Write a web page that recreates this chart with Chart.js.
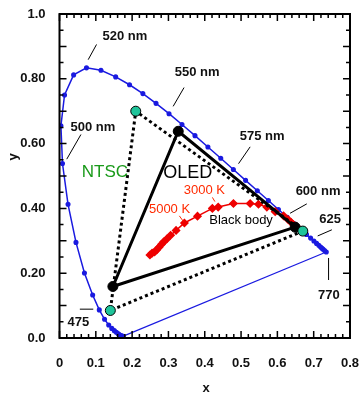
<!DOCTYPE html>
<html>
<head>
<meta charset="utf-8">
<script src="https://cdn.jsdelivr.net/npm/chart.js@4"></script>
<style>
  html, body { margin: 0; padding: 0; background: #fff; }
  #wrap { width: 361px; height: 394px; }
</style>
</head>
<body>
<div id="wrap"><canvas id="cie"></canvas></div>
<script>
// Spectral locus (CIE 1931), 380 -> 680 nm
const locusX = [0.1741, 0.1740, 0.1738, 0.1736, 0.1733, 0.1730, 0.1726, 0.1721, 0.1714, 0.1703, 0.1689, 0.1669, 0.1644, 0.1611, 0.1566, 0.1510, 0.1440, 0.1355, 0.1241, 0.1096, 0.0913, 0.0687, 0.0454, 0.0235, 0.0082, 0.0039, 0.0139, 0.0389, 0.0743, 0.1142, 0.1547, 0.1929, 0.2296, 0.2658, 0.3016, 0.3373, 0.3731, 0.4087, 0.4441, 0.4788, 0.5125, 0.5448, 0.5752, 0.6029, 0.6270, 0.6482, 0.6658, 0.6801, 0.6915, 0.7006, 0.7079, 0.7140, 0.7190, 0.7230, 0.7260, 0.7300, 0.7347];
const locusY = [0.0050, 0.0050, 0.0049, 0.0049, 0.0048, 0.0048, 0.0048, 0.0048, 0.0051, 0.0058, 0.0069, 0.0086, 0.0109, 0.0138, 0.0177, 0.0227, 0.0297, 0.0399, 0.0578, 0.0868, 0.1327, 0.2007, 0.2950, 0.4127, 0.5384, 0.6548, 0.7502, 0.8120, 0.8338, 0.8262, 0.8059, 0.7816, 0.7543, 0.7243, 0.6923, 0.6589, 0.6245, 0.5896, 0.5547, 0.5202, 0.4866, 0.4544, 0.4242, 0.3965, 0.3725, 0.3514, 0.3340, 0.3197, 0.3083, 0.2993, 0.2920, 0.2859, 0.2809, 0.2770, 0.2740, 0.2700, 0.2653];

// Line of purples (380 nm end -> 770 nm end)
const purpleX = [0.1741, 0.7347];
const purpleY = [0.0050, 0.2653];

// Black body (Planckian) locus
const bbX = [0.652, 0.644, 0.637, 0.630, 0.617, 0.594, 0.571, 0.548, 0.525, 0.479, 0.437, 0.421, 0.380, 0.344, 0.321, 0.306, 0.295, 0.287, 0.281, 0.274, 0.268, 0.262, 0.255, 0.249];
const bbY = [0.345, 0.350, 0.358, 0.365, 0.377, 0.390, 0.404, 0.413, 0.415, 0.415, 0.404, 0.400, 0.376, 0.355, 0.332, 0.317, 0.305, 0.297, 0.289, 0.280, 0.272, 0.266, 0.262, 0.256];

// NTSC primaries (R, G, B)
const ntscX = [0.67, 0.21, 0.14];
const ntscY = [0.33, 0.70, 0.085];

// OLED primaries (R, G, B)
const oledX = [0.649, 0.327, 0.147];
const oledY = [0.342, 0.638, 0.159];

// tick labels
const xTickLabels = ['0', '0.1', '0.2', '0.3', '0.4', '0.5', '0.6', '0.7', '0.8'];
const yTickLabels = ['0.0', '', '0.20', '', '0.40', '', '0.60', '', '0.80', '', '1.0'];

const pts = (xs, ys) => xs.map((x, i) => ({ x: x, y: ys[i] }));
const closed = (xs, ys) => pts(xs.concat([xs[0]]), ys.concat([ys[0]]));

// text annotations: [text, x, y, color, font]
const labels = [
    ['520 nm', 0.180, 0.930, '#111', 'bold 13px Arial'],
    ['550 nm', 0.379, 0.819, '#111', 'bold 13px Arial'],
    ['575 nm', 0.558, 0.621, '#111', 'bold 13px Arial'],
    ['600 nm', 0.712, 0.451, '#111', 'bold 13px Arial'],
    ['625', 0.745, 0.365, '#111', 'bold 13px Arial'],
    ['770', 0.742, 0.130, '#111', 'bold 13px Arial'],
    ['500 nm', 0.092, 0.649, '#111', 'bold 13px Arial'],
    ['475', 0.052, 0.047, '#111', 'bold 13px Arial'],
    ['NTSC', 0.125, 0.511, '#1a9a1a', '17px Arial'],
    ['OLED', 0.353, 0.510, '#000', '18px Arial'],
    ['3000 K', 0.399, 0.455, '#ff2a00', '13px Arial'],
    ['5000 K', 0.303, 0.396, '#ff2a00', '13px Arial'],
    ['Black body', 0.500, 0.362, '#000', '13px Arial']
];
// leader lines: [x1, y1, x2, y2, color]
const leaders = [
    [0.102, 0.906, 0.079, 0.859, '#000'],
    [0.343, 0.773, 0.313, 0.715, '#000'],
    [0.525, 0.590, 0.493, 0.538, '#000'],
    [0.681, 0.414, 0.635, 0.385, '#000'],
    [0.750, 0.334, 0.711, 0.315, '#000'],
    [0.741, 0.247, 0.741, 0.179, '#000'],
    [0.059, 0.628, 0.020, 0.552, '#000'],
    [0.056, 0.089, 0.093, 0.089, '#000'],
    [0.421, 0.434, 0.428, 0.421, '#ff2a00'],
    [0.330, 0.377, 0.341, 0.360, '#ff2a00']
];

// frame, inward ticks, axis titles, annotations
const decorPlugin = {
    id: 'decor',
    afterDatasetsDraw(chart) {
        const c = chart.ctx;
        const xs = chart.scales.x, ys = chart.scales.y;
        const a = chart.chartArea;
        c.save();
        c.strokeStyle = '#000';
        c.lineWidth = 2;
        c.strokeRect(a.left, a.top, a.right - a.left, a.bottom - a.top);
        c.lineWidth = 1.5;
        c.beginPath();
        for (let i = 0; i <= 40; i++) {
            const px = xs.getPixelForValue(i * 0.02);
            const len = (i % 5 === 0) ? 7 : 4;
            c.moveTo(px, a.bottom); c.lineTo(px, a.bottom - len);
            c.moveTo(px, a.top); c.lineTo(px, a.top + len);
        }
        for (let i = 0; i <= 20; i++) {
            const py = ys.getPixelForValue(i * 0.05);
            const len = (i % 2 === 0) ? 7 : 4;
            c.moveTo(a.left, py); c.lineTo(a.left + len, py);
            c.moveTo(a.right, py); c.lineTo(a.right - len, py);
        }
        c.stroke();

        c.lineWidth = 1;
        leaders.forEach(l => {
            c.strokeStyle = l[4];
            c.beginPath();
            c.moveTo(xs.getPixelForValue(l[0]), ys.getPixelForValue(l[1]));
            c.lineTo(xs.getPixelForValue(l[2]), ys.getPixelForValue(l[3]));
            c.stroke();
        });

        c.textAlign = 'center';
        c.textBaseline = 'middle';
        labels.forEach(t => {
            c.fillStyle = t[3];
            c.font = t[4];
            c.fillText(t[0], xs.getPixelForValue(t[1]), ys.getPixelForValue(t[2]));
        });

        // axis titles
        c.fillStyle = '#111';
        c.font = 'bold 13px Arial';
        c.fillText('x', 206, 388);
        c.translate(13, 157);
        c.rotate(-Math.PI / 2);
        c.fillText('y', 0, 0);
        c.restore();
    }
};

const ctx = document.getElementById('cie').getContext('2d');

const chart = new Chart(ctx, {
    type: 'scatter',
    data: {
        datasets: [
            {
                // NTSC vertices
                data: pts(ntscX, ntscY),
                showLine: false,
                pointRadius: 5,
                pointBackgroundColor: '#1fc49a',
                pointBorderColor: '#000',
                pointBorderWidth: 1,
                order: 0
            },
            {
                // OLED vertices
                data: pts(oledX, oledY),
                showLine: false,
                pointRadius: 5,
                pointBackgroundColor: '#000',
                pointBorderColor: '#000',
                order: 1
            },
            {
                // OLED triangle
                data: closed(oledX, oledY),
                showLine: true,
                borderColor: '#000',
                borderWidth: 3,
                pointRadius: 0,
                order: 2
            },
            {
                // NTSC triangle (dotted)
                data: closed(ntscX, ntscY),
                showLine: true,
                borderColor: '#000',
                borderWidth: 3,
                borderDash: [3, 3],
                pointRadius: 0,
                order: 3
            },
            {
                // black body
                data: pts(bbX, bbY),
                showLine: true,
                borderColor: '#ee0000',
                borderWidth: 1.5,
                pointStyle: 'rectRot',
                pointRadius: 3.5,
                pointBackgroundColor: '#ee0000',
                pointBorderColor: '#ee0000',
                order: 4
            },
            {
                // spectral locus
                data: pts(locusX, locusY),
                showLine: true,
                borderColor: '#1a1ae0',
                borderWidth: 1.5,
                pointRadius: 1.8,
                pointBackgroundColor: '#1a1ae0',
                pointBorderColor: '#1a1ae0',
                order: 5
            },
            {
                // line of purples
                data: pts(purpleX, purpleY),
                showLine: true,
                borderColor: '#1a1ae0',
                borderWidth: 1.2,
                pointRadius: 0,
                order: 6
            }
        ]
    },
    options: {
        responsive: true,
        maintainAspectRatio: false,
        animation: false,
        layout: { padding: { top: 14, right: 11, left: 0, bottom: 0 } },
        plugins: {
            legend: { display: false },
            tooltip: { enabled: false }
        },
        scales: {
            x: {
                type: 'linear',
                min: 0,
                max: 0.8,
                grid: { display: false },
                border: { display: false },
                afterFit: (s) => { s.height = 56; s.paddingLeft = 0; s.paddingRight = 0; },
                ticks: {
                    stepSize: 0.1,
                    padding: 10,
                    color: '#111',
                    font: { family: 'Arial', size: 13, weight: 'bold' },
                    callback: (v, i) => xTickLabels[i]
                }
            },
            y: {
                type: 'linear',
                min: 0,
                max: 1.0,
                grid: { display: false },
                border: { display: false },
                afterFit: (s) => { s.width = 59.5; s.paddingTop = 0; s.paddingBottom = 0; },
                ticks: {
                    stepSize: 0.1,
                    padding: 6,
                    autoSkip: false,
                    color: '#111',
                    font: { family: 'Arial', size: 13, weight: 'bold' },
                    callback: (v, i) => yTickLabels[i]
                }
            }
        }
    },
    plugins: [decorPlugin]
});
</script>
</body>
</html>
